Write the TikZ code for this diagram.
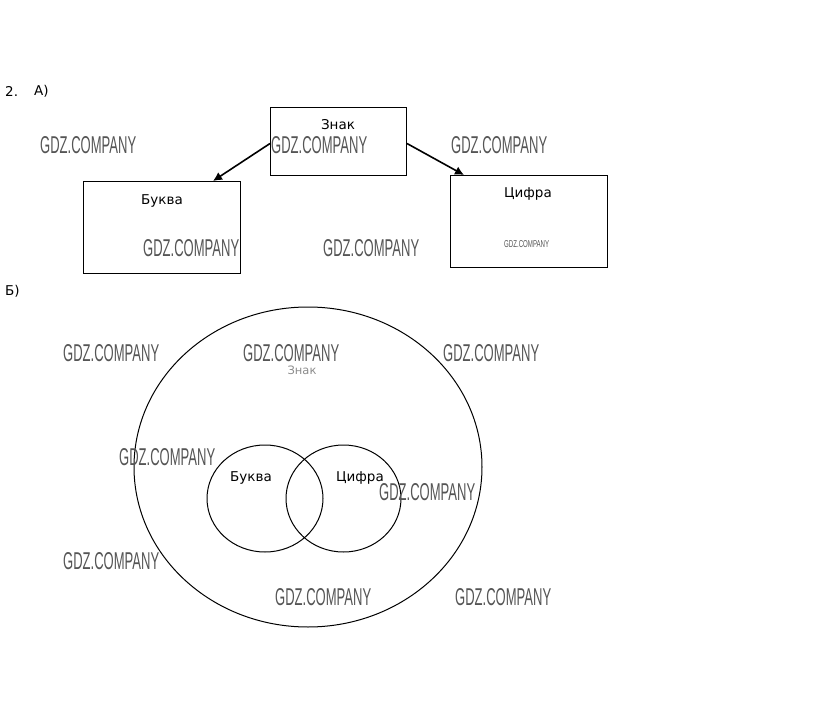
\documentclass[tikz,border=0pt]{standalone}
\usepackage{fontspec}
\usepackage{graphicx}
\setmainfont{DejaVu Sans}
\newfontfamily\wmfont{Liberation Sans}
\usetikzlibrary{shapes.geometric,arrows.meta}
\newcommand\wmark{\resizebox{96pt}{17pt}{\wmfont GDZ.COMPANY}}
\newcommand\wmsmall{\resizebox{45pt}{7pt}{\wmfont GDZ.COMPANY}}
\definecolor{wmgray}{HTML}{555555}
\tikzset{
  box/.style={draw=black, line width=1pt, rectangle, inner sep=0pt, anchor=north west},
  lbl/.style={inner sep=0pt, font=\fontsize{13.5}{15}\selectfont},
  wm/.style={inner sep=0pt, anchor=west, text=wmgray},
  arr/.style={line width=1.6pt, -{Latex[length=9pt,width=9pt]}},
  circ/.style={draw=black, line width=1pt, ellipse, inner sep=0pt},
}
\begin{document}
\begin{tikzpicture}[x=1pt,y=-1pt]
\useasboundingbox[fill=white] (0,0) rectangle (823,728);
% part A
\node[lbl, anchor=west] (num) at (5,91) {2.};
\node[lbl, anchor=west] (pa) at (34,91) {А)};
\node[box, minimum width=136pt, minimum height=68pt] (znak) at (270,107) {};
\node[box, minimum width=157pt, minimum height=92pt] (bukva) at (83,181) {};
\node[box, minimum width=157pt, minimum height=92pt] (cifra) at (450,175) {};
\node[lbl] (tznak) at (338,125) {Знак};
\node[lbl] (tbukva) at (162,201) {Буква};
\node[lbl] (tcifra) at (528,194) {Цифра};
\draw[arr] ([yshift=-2pt]znak.west) -- ([xshift=51pt]bukva.north);
\draw[arr] ([yshift=-2pt]znak.east) -- ([xshift=-65pt]cifra.north);
% part B
\node[lbl, anchor=west] (pb) at (5,291) {Б)};
\node[circ, minimum width=348pt, minimum height=320pt] (big) at (308,467) {};
\node[circ, minimum width=116pt, minimum height=107pt] (cb) at (265,498.5) {};
\node[circ, minimum width=115pt, minimum height=107pt] (cc) at (343.5,498.5) {};
\node[lbl, font=\fontsize{11.5}{13}\selectfont, text=black!45] (tznak2) at (302,370) {Знак};
\node[lbl] (tb2) at (251,478) {Буква};
\node[lbl] (tc2) at (360,478) {Цифра};
% watermarks
\node[wm] (w1) at (40,145) {\wmark};
\node[wm] (w2) at (271,145) {\wmark};
\node[wm] (w3) at (451,145) {\wmark};
\node[wm] (w4) at (143,248) {\wmark};
\node[wm] (w5) at (323,248) {\wmark};
\node[wm] (w6) at (504,244) {\wmsmall};
\node[wm] (w7) at (63,353) {\wmark};
\node[wm] (w8) at (243,353) {\wmark};
\node[wm] (w9) at (443,353) {\wmark};
\node[wm] (w10) at (119,457) {\wmark};
\node[wm] (w11) at (379,492) {\wmark};
\node[wm] (w12) at (63,561) {\wmark};
\node[wm] (w13) at (275,597) {\wmark};
\node[wm] (w14) at (455,597) {\wmark};
\end{tikzpicture}
\end{document}
